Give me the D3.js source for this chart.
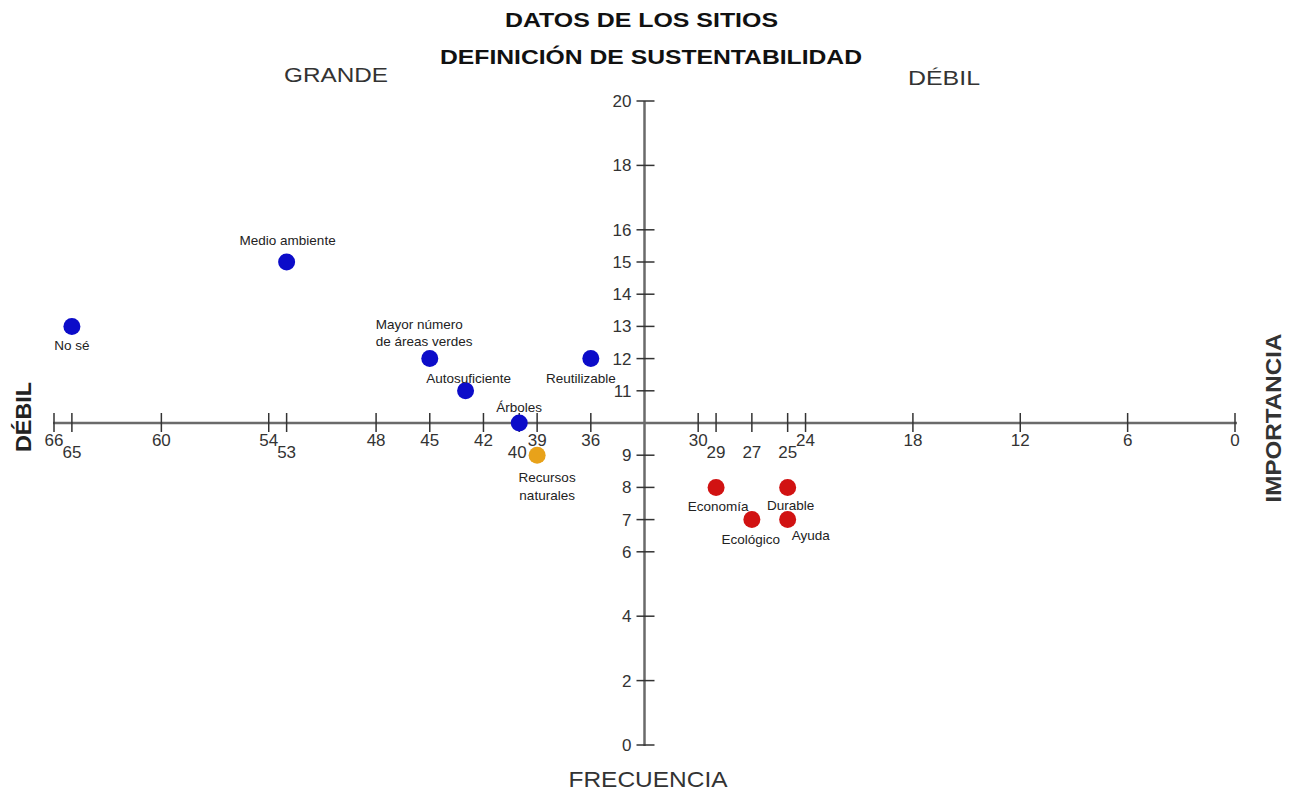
<!DOCTYPE html>
<html>
<head>
<meta charset="utf-8">
<script src="https://cdn.jsdelivr.net/npm/d3@7"></script>
<style>
  html, body { margin: 0; padding: 0; background: #fff; }
  svg { display: block; font-family: "Liberation Sans", Arial, sans-serif; }
</style>
</head>
<body>
<svg id="chart" width="1295" height="792"></svg>
<script>
// ---------- DATA ----------
const pointNames  = ["No sé", "Medio ambiente", "Mayor número\nde áreas verdes", "Autosuficiente", "Reutilizable", "Árboles", "Recursos\nnaturales", "Economía", "Ecológico", "Durable", "Ayuda"];
const frecuencia  = [65, 53, 45, 43, 36, 40, 39, 29, 27, 25, 25];
const importancia = [13, 15, 12, 11, 12, 10, 9, 8, 7, 8, 7];
const grupo       = ["a", "a", "a", "a", "a", "a", "b", "c", "c", "c", "c"];

const xTicksUpper = [66, 60, 54, 48, 45, 42, 39, 36, 30, 24, 18, 12, 6, 0];
const xTicksLower = [65, 53, 40, 29, 27, 25];
const yTicks      = [20, 18, 16, 15, 14, 13, 12, 11, 9, 8, 7, 6, 4, 2, 0];

const titleLines  = ["DATOS DE LOS SITIOS", "DEFINICIÓN DE SUSTENTABILIDAD"];
const xCross = 33, yCross = 10;

// ---------- STYLE / LAYOUT ----------
const groupColor = { a: "#0c0cc9", b: "#e8a21a", c: "#d11212" };
// label placement: dx, dy (baseline offset of first line from point), anchor
const labelPlace = {
  "No sé":            { dx: 0,   dy: 24,  anchor: "middle" },
  "Medio ambiente":   { dx: 1,   dy: -17, anchor: "middle" },
  "Mayor número\nde áreas verdes": { dx: -54, dy: -30, anchor: "start" },
  "Autosuficiente":   { dx: 3,   dy: -8,  anchor: "middle" },
  "Reutilizable":     { dx: -10, dy: 24,  anchor: "middle" },
  "Árboles":          { dx: 0,   dy: -11, anchor: "middle" },
  "Recursos\nnaturales": { dx: 10, dy: 27, anchor: "middle" },
  "Economía":         { dx: 2,   dy: 24,  anchor: "middle" },
  "Ecológico":        { dx: -1,  dy: 24,  anchor: "middle" },
  "Durable":          { dx: 3,   dy: 23,  anchor: "middle" },
  "Ayuda":            { dx: 23,  dy: 20,  anchor: "middle" }
};

const svg = d3.select("#chart");
const x = d3.scaleLinear().domain([66, 0]).range([54, 1235]);
const y = d3.scaleLinear().domain([0, 20]).range([745, 101]);

const axisColor = "#6a6a6a";
const tickColor = "#333";
const textColor = "#333";

// ---------- X AXIS ----------
const gx = svg.append("g").attr("transform", `translate(0,${y(yCross)})`);
gx.append("line").attr("x1", x(66) - 1).attr("x2", x(0) + 2)
  .attr("y1", 0).attr("y2", 0)
  .attr("stroke", axisColor).attr("stroke-width", 2.5);
const allX = xTicksUpper.concat(xTicksLower);
gx.selectAll("line.tick").data(allX).join("line").attr("class", "tick")
  .attr("x1", d => x(d)).attr("x2", d => x(d))
  .attr("y1", -10).attr("y2", 9)
  .attr("stroke", tickColor).attr("stroke-width", 1.5);
gx.selectAll("text.up").data(xTicksUpper).join("text").attr("class", "up")
  .attr("x", d => x(d)).attr("y", 23)
  .attr("text-anchor", "middle").attr("font-size", 17).attr("fill", textColor)
  .text(d => d);
gx.selectAll("text.low").data(xTicksLower).join("text").attr("class", "low")
  .attr("x", d => x(d) + (d === 40 ? -2 : 0)).attr("y", 35)
  .attr("text-anchor", "middle").attr("font-size", 17).attr("fill", textColor)
  .text(d => d);

// ---------- Y AXIS ----------
const gy = svg.append("g").attr("transform", `translate(${x(xCross)},0)`);
gy.append("line").attr("x1", 0).attr("x2", 0)
  .attr("y1", y(20)).attr("y2", y(0) + 1)
  .attr("stroke", axisColor).attr("stroke-width", 2.5);
gy.selectAll("line.tick").data(yTicks).join("line").attr("class", "tick")
  .attr("x1", -8).attr("x2", 10)
  .attr("y1", d => y(d)).attr("y2", d => y(d))
  .attr("stroke", tickColor).attr("stroke-width", 1.5);
gy.selectAll("text").data(yTicks).join("text")
  .attr("x", -13).attr("y", d => y(d) + 6)
  .attr("text-anchor", "end").attr("font-size", 17).attr("fill", textColor)
  .text(d => d);

// ---------- POINTS ----------
const pts = pointNames.map((n, i) => ({ name: n, fx: frecuencia[i], iy: importancia[i], g: grupo[i] }));
svg.append("g").selectAll("circle").data(pts).join("circle")
  .attr("cx", d => x(d.fx)).attr("cy", d => y(d.iy)).attr("r", 8.5)
  .attr("fill", d => groupColor[d.g]);

const lg = svg.append("g");
pts.forEach(d => {
  const p = labelPlace[d.name];
  const t = lg.append("text")
    .attr("x", x(d.fx) + p.dx).attr("y", y(d.iy) + p.dy)
    .attr("text-anchor", p.anchor).attr("font-size", 13.5).attr("fill", "#222");
  d.name.split("\n").forEach((line, k) => {
    t.append("tspan").attr("x", x(d.fx) + p.dx).attr("dy", k === 0 ? 0 : 17.5).text(line);
  });
});

// ---------- TITLES & AXIS NAMES ----------
svg.append("text").attr("x", 641.5).attr("y", 27).attr("text-anchor", "middle")
  .attr("font-size", 21).attr("font-weight", "bold").attr("fill", "#111")
  .attr("textLength", 273).attr("lengthAdjust", "spacingAndGlyphs").text(titleLines[0]);
svg.append("text").attr("x", 651).attr("y", 64).attr("text-anchor", "middle")
  .attr("font-size", 21).attr("font-weight", "bold").attr("fill", "#111")
  .attr("textLength", 422).attr("lengthAdjust", "spacingAndGlyphs").text(titleLines[1]);

svg.append("text").attr("x", 336).attr("y", 82).attr("text-anchor", "middle")
  .attr("font-size", 21).attr("fill", "#333")
  .attr("textLength", 104).attr("lengthAdjust", "spacingAndGlyphs").text("GRANDE");
svg.append("text").attr("x", 944).attr("y", 85).attr("text-anchor", "middle")
  .attr("font-size", 21).attr("fill", "#333")
  .attr("textLength", 72).attr("lengthAdjust", "spacingAndGlyphs").text("DÉBIL");
svg.append("text").attr("x", 648).attr("y", 787).attr("text-anchor", "middle")
  .attr("font-size", 22).attr("fill", "#333")
  .attr("textLength", 159).attr("lengthAdjust", "spacingAndGlyphs").text("FRECUENCIA");

svg.append("text").attr("transform", "translate(31,417) rotate(-90)")
  .attr("text-anchor", "middle").attr("font-size", 22).attr("font-weight", "bold").attr("fill", "#222")
  .attr("textLength", 70).attr("lengthAdjust", "spacingAndGlyphs").text("DÉBIL");
svg.append("text").attr("transform", "translate(1281,418) rotate(-90)")
  .attr("text-anchor", "middle").attr("font-size", 22).attr("font-weight", "bold").attr("fill", "#333")
  .attr("textLength", 169).attr("lengthAdjust", "spacingAndGlyphs").text("IMPORTANCIA");
</script>
</body>
</html>
